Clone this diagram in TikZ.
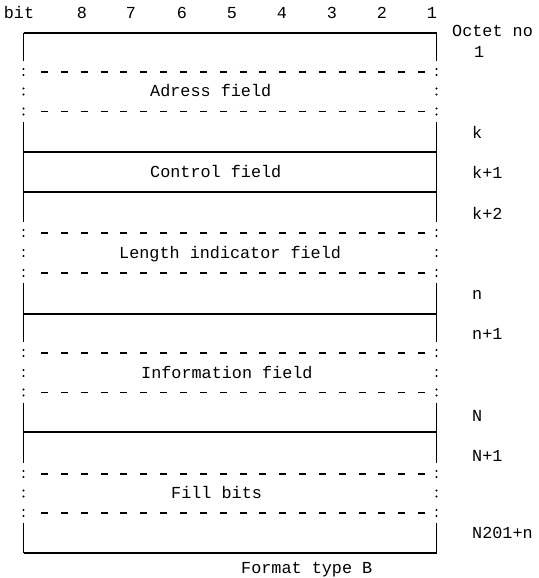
\documentclass[tikz,border=0pt]{standalone}
\usepackage{fontspec}
\newfontfamily\twfont{Liberation Mono}
\begin{document}
\begin{tikzpicture}[x=1pt,y=-1pt,
  lbl/.style={font=\twfont\fontsize{16.8}{18}\selectfont, inner sep=0pt, anchor=base},
  lblw/.style={lbl, anchor=base west},
  solidline/.style={line width=1.3pt},
  dashseg/.style={line width=1.5pt},
  ]
\useasboundingbox (0,0) rectangle (538,578);
% bit numbers
\node[lbl] (bit) at (19,19) {bit};
\foreach \n/\x in {8/82,7/131,6/182,5/232,4/282,3/332,2/382,1/432}
  \node[lbl] (b\n) at (\x,19) {\n};
% box corners
\coordinate (tl) at (23.5,33);
\coordinate (tr) at (436.5,33);
\coordinate (bl) at (23.5,553);
\coordinate (br) at (436.5,553);
% horizontal solid lines
\draw[solidline] (tl) -- (tr);
\foreach \y in {152,192,314,432}
  \draw[solidline] (23.5,\y) -- (436.5,\y);
\draw[solidline] (bl) -- (br);
% vertical solid segments
\foreach \a/\b in {33/61,121.5/222,283/342,402.5/463,523/553}{
  \draw[solidline] (23.5,\a) -- (23.5,\b);
  \draw[solidline] (436.5,\a) -- (436.5,\b);
}
% dashed lines
\foreach \y in {72,111.5,233,273,353,392.5,474,513}
  \foreach \k in {0,...,19}
    \draw[dashseg] ({41+19.85*\k},\y) -- ++(7,0);
% colons on the sides
\foreach \y in {72,91.5,111.5,233,253,273,353,373,392.5,474,493.5,513}
  \foreach \x in {23.5,436.5}{
    \fill (\x,\y-3) circle (1.1pt);
    \fill (\x,\y+3) circle (1.1pt);
  }
% field names
\node[lblw] (adr) at (150,96) {Adress field};
\node[lblw] (ctl) at (150,177) {Control field};
\node[lblw] (len) at (119,258) {Length indicator field};
\node[lblw] (inf) at (141,378) {Information field};
\node[lblw] (fil) at (171,498) {Fill bits};
\node[lblw] (fmt) at (241,573) {Format type B};
% octet numbers
\node[lblw] (oct) at (452,37) {Octet no};
\node[lblw] (o1) at (474,58) {1};
\node[lblw] (ok) at (472,138) {k};
\node[lblw] (ok1) at (472,178) {k+1};
\node[lblw] (ok2) at (472,219) {k+2};
\node[lblw] (on) at (472,299) {n};
\node[lblw] (on1) at (472,339) {n+1};
\node[lblw] (oN) at (472,421) {N};
\node[lblw] (oN1) at (472,461) {N+1};
\node[lblw] (oNn) at (472,538) {N201+n};
\end{tikzpicture}
\end{document}
